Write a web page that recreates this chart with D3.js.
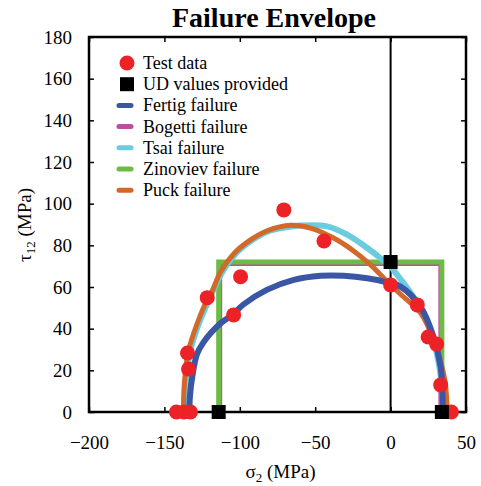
<!DOCTYPE html>
<html>
<head>
<meta charset="utf-8">
<script src="https://cdn.jsdelivr.net/npm/d3@7"></script>
<style>
  html, body { margin: 0; padding: 0; background: #fff; }
  svg { display: block; }
  svg text { font-family: "Liberation Serif", "Times New Roman", serif; }
</style>
</head>
<body>
<svg id="chart" width="481" height="486"></svg>
<script>
// Ticks
const xTicks = [-200, -150, -100, -50, 0, 50];
const yTicks = [0, 20, 40, 60, 80, 100, 120, 140, 160, 180];

// Measured failure points [sigma2, tau12]
const testData = [
  [-142, 0], [-137, 0], [-132.7, 0],
  [-134.7, 28.3], [-134, 20.6], [-121.6, 54.9], [-104.1, 46.6],
  [-99.5, 64.9], [-70.8, 97], [-44.2, 82.1],
  [0, 61], [17.7, 51.4], [24.9, 36], [30.5, 32.6], [33.2, 13], [40.3, 0]
];

// Unidirectional strengths: Yc, S, Yt
const udValues = [[-114, 0], [0, 72], [34, 0]];

// Predicted envelopes
const fertig = [
  [-133.5, 0], [-133, 8], [-131.5, 17], [-128.3, 28], [-124, 33.5],
  [-119.4, 37.8], [-112, 43], [-104, 47.2], [-97.6, 51.6], [-82.1, 58.6],
  [-64.2, 63.4], [-46.4, 65.4], [-31, 65.4], [-15.5, 64.2], [-2.2, 62.2],
  [6.6, 60.2], [19.9, 50.4], [28.5, 36], [33.2, 21.6], [34.4, 8], [34.5, 0]
];
const bogetti = [[-113, 0], [-113, 71], [33, 71], [33, 0]];
const tsai = [
  [-136.3, 0], [-136.1, 8], [-134.8, 20], [-132.8, 29.5], [-127.4, 42],
  [-120.5, 53.8], [-111.8, 67], [-103, 75.8], [-92, 82.4], [-81, 86.8],
  [-66, 89], [-59.7, 89.5], [-42, 89.1], [-28.8, 85.1], [-15.5, 78.7],
  [-6.6, 73.8], [-1.1, 70.6], [4.4, 65.8], [11, 59.5], [18, 52], [24, 43.5],
  [29, 33], [32.5, 21], [34.3, 10], [34.6, 0]
];
const zinoviev = [[-114, 0], [-114, 72], [34, 72], [34, 0]];
const puck = [
  [-137.3, 0], [-137.2, 8], [-136, 20], [-134, 29.5], [-128.5, 42],
  [-121.6, 53.8], [-119.4, 56.2], [-112.8, 67.2], [-104, 76], [-92.9, 82.6],
  [-81.8, 87], [-66.3, 89.6], [-53.1, 88.3], [-37.8, 83.5], [-24.5, 77.3],
  [-13.3, 70.6], [-2.2, 62.6], [6.6, 56.5], [19.9, 47.5], [28.5, 34.6],
  [35.8, 16], [37.3, 5], [37.5, 0]
];

const legendItems = [
  { name: "Test data", type: "circle", color: "#ec2227" },
  { name: "UD values provided", type: "square", color: "#000000" },
  { name: "Fertig failure", type: "line", color: "#3a56a5" },
  { name: "Bogetti failure", type: "line", color: "#b84fa0" },
  { name: "Tsai failure", type: "line", color: "#6accdc" },
  { name: "Zinoviev failure", type: "line", color: "#6cbb45" },
  { name: "Puck failure", type: "line", color: "#d2692a" }
];

const FONT = "Liberation Serif, Times New Roman, serif";
const svg = d3.select("#chart");
const plotL = 89, plotR = 466, plotT = 37, plotB = 412;

const x = d3.scaleLinear().domain([-200, 50]).range([plotL, plotR]);
const y = d3.scaleLinear().domain([0, 180]).range([plotB, plotT]);

// Title
svg.append("text")
  .attr("x", 274).attr("y", 27)
  .attr("text-anchor", "middle")
  .attr("font-family", FONT)
  .attr("font-size", 28).attr("font-weight", "bold")
  .text("Failure Envelope");

// Axes with inward ticks
function styleAxis(g) {
  g.attr("font-family", FONT);
  g.select(".domain").remove();
  g.selectAll("text").attr("font-size", 19).attr("font-family", FONT).attr("fill", "#000");
  g.selectAll("line").attr("stroke-width", 1.5);
}
svg.append("g").attr("transform", `translate(0,${plotB})`)
  .call(d3.axisBottom(x).tickValues(xTicks).tickSize(-5).tickPadding(24).tickSizeOuter(0))
  .call(styleAxis);
svg.append("g").attr("transform", `translate(0,${plotT})`)
  .call(d3.axisTop(x).tickValues(xTicks).tickSize(-5).tickFormat("").tickSizeOuter(0))
  .call(styleAxis);
svg.append("g").attr("transform", `translate(${plotL},0)`)
  .call(d3.axisLeft(y).tickValues(yTicks).tickSize(-5).tickPadding(17).tickSizeOuter(0))
  .call(styleAxis);
svg.append("g").attr("transform", `translate(${plotR},0)`)
  .call(d3.axisRight(y).tickValues(yTicks).tickSize(-5).tickFormat("").tickSizeOuter(0))
  .call(styleAxis);

// Frame
svg.append("rect")
  .attr("x", plotL).attr("y", plotT)
  .attr("width", plotR - plotL).attr("height", plotB - plotT)
  .attr("fill", "none").attr("stroke", "#000").attr("stroke-width", 2.5);

// Zero stress line
svg.append("line")
  .attr("x1", x(0)).attr("x2", x(0)).attr("y1", y(0)).attr("y2", y(180))
  .attr("stroke", "#000").attr("stroke-width", 2);

// Axis titles
const xt = svg.append("text")
  .attr("x", (plotL + plotR) / 2 + 3).attr("y", 478)
  .attr("text-anchor", "middle").attr("font-size", 19).attr("font-family", FONT);
xt.append("tspan").text("σ");
xt.append("tspan").attr("font-size", 13).attr("dy", 4).text("2");
xt.append("tspan").attr("dy", -4).text(" (MPa)");

const yt = svg.append("text")
  .attr("transform", "translate(31,225) rotate(-90)")
  .attr("text-anchor", "middle").attr("font-size", 19).attr("font-family", FONT);
yt.append("tspan").text("τ");
yt.append("tspan").attr("font-size", 13).attr("dy", 4).text("12");
yt.append("tspan").attr("dy", -4).text(" (MPa)");

// Envelopes
const smooth = d3.line().x(d => x(d[0])).y(d => y(d[1])).curve(d3.curveCatmullRom.alpha(0.5));
const straight = d3.line().x(d => x(d[0])).y(d => y(d[1]));

const curves = [
  { data: bogetti, gen: straight, color: legendItems[3].color, w: 4 },
  { data: zinoviev, gen: straight, color: legendItems[5].color, w: 5 },
  { data: tsai, gen: smooth, color: legendItems[4].color, w: 6 },
  { data: puck, gen: smooth, color: legendItems[6].color, w: 5 },
  { data: fertig, gen: smooth, color: legendItems[2].color, w: 6 }
];
svg.append("g").selectAll("path").data(curves).join("path")
  .attr("d", d => d.gen(d.data))
  .attr("fill", "none")
  .attr("stroke", d => d.color)
  .attr("stroke-width", d => d.w)
  .attr("stroke-linejoin", d => d.gen === straight ? "miter" : "round");

// Test data
svg.append("g").selectAll("circle").data(testData).join("circle")
  .attr("cx", d => x(d[0])).attr("cy", d => y(d[1])).attr("r", 7.5)
  .attr("fill", legendItems[0].color);

// UD values
svg.append("g").selectAll("rect").data(udValues).join("rect")
  .attr("x", d => x(d[0]) - 7).attr("y", d => y(d[1]) - 7)
  .attr("width", 14).attr("height", 14)
  .attr("fill", "#000");

// Legend
const lg = svg.append("g").attr("transform", "translate(127,63)");
const rows = lg.selectAll("g").data(legendItems).join("g")
  .attr("transform", (d, i) => `translate(0,${i * 21.2})`);
rows.filter(d => d.type === "circle").append("circle").attr("r", 7.5).attr("fill", d => d.color);
rows.filter(d => d.type === "square").append("rect")
  .attr("x", -7).attr("y", -7).attr("width", 14).attr("height", 14).attr("fill", d => d.color);
rows.filter(d => d.type === "line").append("line")
  .attr("x1", -8).attr("x2", 4).attr("stroke", d => d.color)
  .attr("stroke-width", 5).attr("stroke-linecap", "round");
rows.append("text").attr("x", 16).attr("y", 6)
  .attr("font-family", FONT)
  .attr("font-size", 18).text(d => d.name);
</script>
</body>
</html>
